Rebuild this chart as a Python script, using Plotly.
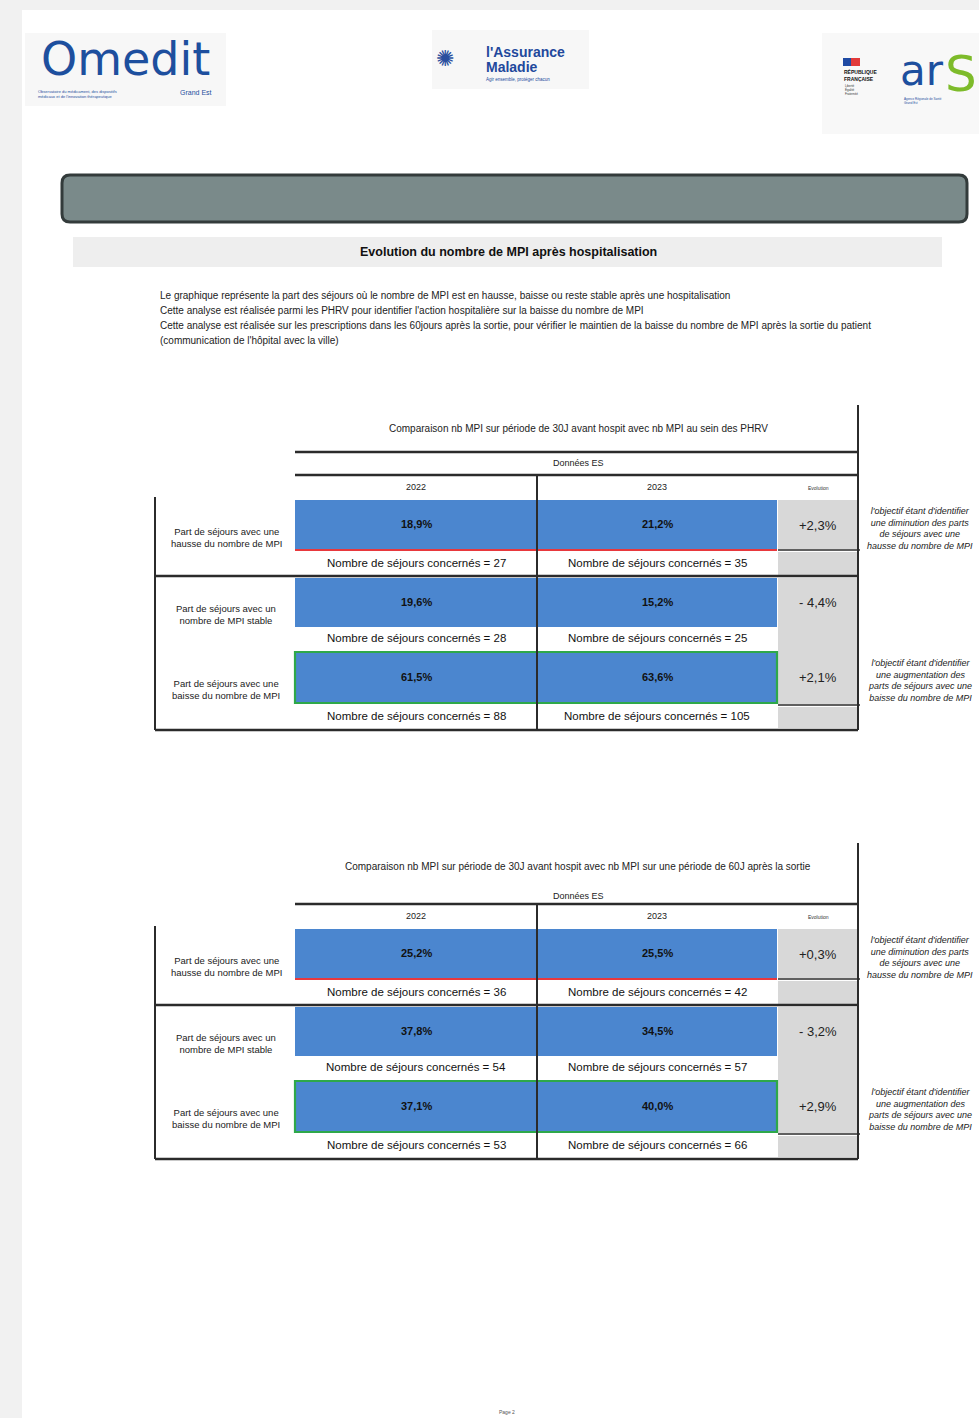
import plotly.graph_objects as go

# ---------------- data ----------------
row_labels = ["Part de séjours avec une<br>hausse du nombre de MPI",
              "Part de séjours avec un<br>nombre de MPI stable",
              "Part de séjours avec une<br>baisse du nombre de MPI"]
years = ["2022", "2023"]

t1_title = "Comparaison nb MPI sur période de 30J avant hospit avec nb MPI au sein des PHRV"
t1_pct_2022 = [18.9, 19.6, 61.5]
t1_pct_2023 = [21.2, 15.2, 63.6]
t1_evol = [2.3, -4.4, 2.1]
t1_n_2022 = [27, 28, 88]
t1_n_2023 = [35, 25, 105]

t2_title = "Comparaison nb MPI sur période de 30J avant hospit avec nb MPI sur une période de 60J après la sortie"
t2_pct_2022 = [25.2, 37.8, 37.1]
t2_pct_2023 = [25.5, 34.5, 40.0]
t2_evol = [0.3, -3.2, 2.9]
t2_n_2022 = [36, 54, 53]
t2_n_2023 = [42, 57, 66]

notes = ["l'objectif étant d'identifier<br>une diminution des parts<br>de séjours avec une<br>hausse du nombre de MPI",
         None,
         "l'objectif étant d'identifier<br>une augmentation des<br>parts de séjours avec une<br>baisse du nombre de MPI"]

page_title = "Evolution du nombre de MPI après hospitalisation"
description = [
    "Le graphique représente la part des séjours où le nombre de MPI est en hausse, baisse ou reste stable après une hospitalisation",
    "Cette analyse est réalisée parmi les PHRV pour identifier l'action hospitalière sur la baisse du nombre de MPI",
    "Cette analyse est réalisée sur les prescriptions dans les 60jours après la sortie, pour vérifier le maintien de la baisse du nombre de MPI après la sortie du patient",
    "(communication de l'hôpital avec la ville)",
]

# ---------------- style ----------------
W, H = 979, 1418
FONT = "Liberation Sans Narrow, Liberation Sans, Arial Narrow, sans-serif"
BLUE = "#4b86cf"
GREY = "#d8d8d8"
DARK = "#2b2b2b"

shapes = []
ann = []


def rect(x0, y0, x1, y1, fill, line=None, lw=0):
    shapes.append(dict(type="rect", xref="x", yref="y", x0=x0, x1=x1, y0=y0, y1=y1,
                       fillcolor=fill, line=dict(color=line or fill, width=lw), layer="below"))


def line(x0, y0, x1, y1, color=DARK, w=2):
    shapes.append(dict(type="line", xref="x", yref="y", x0=x0, x1=x1, y0=y0, y1=y1,
                       line=dict(color=color, width=w), layer="above"))


def text(x, y, s, size=9, color="#111", bold=False, italic=False, xanchor="center", family=FONT):
    if bold:
        s = "<b>" + s + "</b>"
    if italic:
        s = "<i>" + s + "</i>"
    ann.append(dict(x=x, y=y, xref="x", yref="y", text=s, showarrow=False, xanchor=xanchor,
                    yanchor="middle", align="center" if xanchor == "center" else "left",
                    font=dict(family=family, size=size, color=color)))


def fmt_pct(v):
    return f"{v:.1f}".replace(".", ",") + "%"


def fmt_evol(v):
    s = f"{abs(v):.1f}".replace(".", ",") + "%"
    return ("+" + s) if v >= 0 else ("- " + s)


# page background strips
rect(0, 0, 22, H, "#f1f1f1")
rect(0, 0, W, 10, "#f1f1f1")

# ---- logos (text-based) ----
rect(25, 33, 226, 106, "#f7f7f7")
text(125, 59, "Omedit", size=46, color="#1d4f9e", family="DejaVu Sans, sans-serif")
text(36, 94, "Observatoire du médicament, des dispositifs<br>médicaux et de l'innovation thérapeutique",
     size=4, color="#1d4f9e", xanchor="left")
text(196, 92, "Grand Est", size=7, color="#1d4f9e")

rect(432, 30, 589, 89, "#f7f7f7")
text(445, 58, "✺", size=22, color="#2a4f9e")
text(484, 52, "l'Assurance", size=14, color="#22489c", bold=True, xanchor="left")
text(484, 67, "Maladie", size=14, color="#22489c", bold=True, xanchor="left")
text(484, 79, "Agir ensemble, protéger chacun", size=4.5, color="#22489c", xanchor="left")

rect(822, 33, W, 134, "#f8f8f8")
rect(843, 58, 851, 66, "#1f4aa3")
rect(851, 58, 860, 66, "#e23a3a")
text(842, 75, "RÉPUBLIQUE<br>FRANÇAISE", size=5, color="#111", bold=True, xanchor="left")
text(843, 90, "Liberté<br>Égalité<br>Fraternité", size=3, color="#333", xanchor="left")
text(922, 70, "ar", size=42, color="#1d4f9e", family="DejaVu Sans, sans-serif")
text(961, 74, "S", size=50, color="#7dbb2a", family="DejaVu Sans, sans-serif")
text(902, 101, "Agence Régionale de Santé<br>Grand Est", size=3, color="#1d4f9e", xanchor="left")

# ---- dark rounded banner ----
x0b, x1b, y0b, y1b, r = 62, 967, 175, 222, 8
path = (f"M {x0b+r},{y0b} L {x1b-r},{y0b} Q {x1b},{y0b} {x1b},{y0b+r} L {x1b},{y1b-r} "
        f"Q {x1b},{y1b} {x1b-r},{y1b} L {x0b+r},{y1b} Q {x0b},{y1b} {x0b},{y1b-r} "
        f"L {x0b},{y0b+r} Q {x0b},{y0b} {x0b+r},{y0b} Z")
shapes.append(dict(type="path", xref="x", yref="y", path=path, fillcolor="#7a8a8a",
                   line=dict(color="#333b3b", width=3)))

# ---- title bar ----
rect(73, 237, 942, 267, "#eeeeee")
text(508, 252, page_title, size=12.5, color="#111", bold=True)

# ---- description ----
for i, s in enumerate(description):
    text(158, 295 + i * 15, s, size=10, color="#222", xanchor="left")


# ---- tables ----
def draw_table(B, title, title_y, donnees_y, rtop, top_line, p22, p23, evol, n22, n23):
    XL, XA, XM, XB, XG, XR = 155, 295, 537, 777, 778, 858
    # right vertical border
    line(XR, rtop, XR, B + 255, w=2)
    text(578, title_y, title, size=10, color="#222")
    if top_line is not None:
        line(XA, top_line, XR, top_line, w=2.5)
    text(578, donnees_y, "Données ES", size=9, color="#222")
    line(XA, B, XR, B, w=2.5)
    text(416, B + 12, years[0], size=9, color="#222")
    text(657, B + 12, years[1], size=9, color="#222")
    text(818, B + 13, "Evolution", size=5, color="#333")

    row_tops = [B + 25, B + 103, B + 177]
    row_bots = [B + 75, B + 152, B + 228]
    count_y = [B + 88, B + 163, B + 241]

    # grey evolution column
    rect(XG, B + 25, XR, B + 74, GREY)
    rect(XG, B + 77, XR, B + 100, GREY)
    rect(XG, B + 103, XR, B + 229, GREY)
    rect(XG, B + 232, XR, B + 253, GREY)

    for k in range(3):
        t, b = row_tops[k], row_bots[k]
        rect(XA, t, XB, b, BLUE)
        text(416, (t + b) / 2 - 1, fmt_pct(p22[k]), size=11, color="#111", bold=True)
        text(657, (t + b) / 2 - 1, fmt_pct(p23[k]), size=11, color="#111", bold=True)
        text(818, (t + b) / 2, fmt_evol(evol[k]), size=13, color="#222")
        text(416, count_y[k], f"Nombre de séjours concernés = {n22[k]}", size=11.5, color="#111")
        text(657, count_y[k], f"Nombre de séjours concernés = {n23[k]}", size=11.5, color="#111")
        label_y = (t + b) / 2 + 12
        text(226, label_y, row_labels[k], size=9.5, color="#222")
        if notes[k]:
            text(920, (t + b) / 2 + 3, notes[k], size=9, color="#222", italic=True)

    # highlight lines
    line(XA, row_bots[0], XB, row_bots[0], color="#e8383d", w=2)
    shapes.append(dict(type="rect", xref="x", yref="y", x0=XA, x1=XB, y0=row_tops[2],
                       y1=row_bots[2], line=dict(color="#2ea84a", width=2.2)))
    # grid lines
    line(XG, B + 75, XR + 2, B + 75, w=1.5)
    line(XG, B + 230, XR + 2, B + 230, w=1.5)
    line(XL, B + 101, XR, B + 101, w=2.5)
    line(XL, B + 255, XR, B + 255, w=2.5)
    line(XL, B + 22, XL, B + 255, w=2)
    line(XM, B, XM, B + 255, w=2)


draw_table(475, t1_title, 428, 463, 405, 452,
           t1_pct_2022, t1_pct_2023, t1_evol, t1_n_2022, t1_n_2023)
draw_table(904, t2_title, 866, 896, 843, None,
           t2_pct_2022, t2_pct_2023, t2_evol, t2_n_2022, t2_n_2023)

# footer
text(507, 1412, "Page 2", size=5, color="#555")

fig = go.Figure()
fig.update_layout(
    width=W, height=H, margin=dict(l=0, r=0, t=0, b=0),
    paper_bgcolor="white", plot_bgcolor="white",
    xaxis=dict(range=[0, W], visible=False, fixedrange=True),
    yaxis=dict(range=[H, 0], visible=False, fixedrange=True),
    shapes=shapes, annotations=ann, showlegend=False,
)
fig.write_html("out.html")
